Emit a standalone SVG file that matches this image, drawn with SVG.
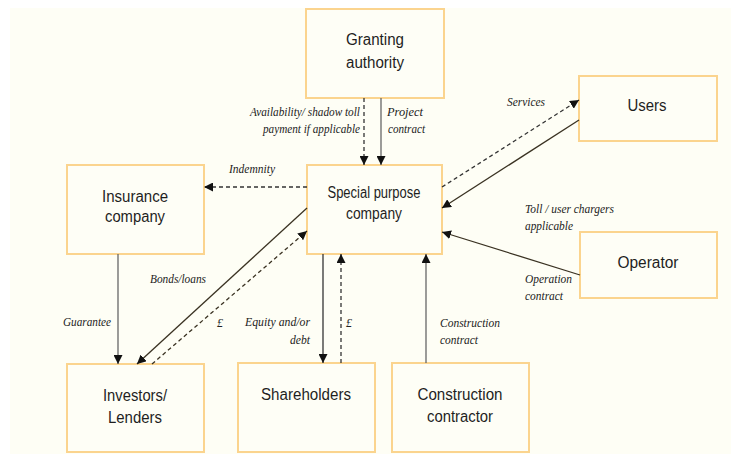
<svg xmlns="http://www.w3.org/2000/svg" width="731" height="454" viewBox="0 0 731 454">
<style>
.box rect{fill:#fefef6;stroke:#fbd48e;stroke-width:2}
.box text{font-family:"Liberation Sans",Arial,sans-serif;font-size:16px;fill:#1e1e1e;text-anchor:middle}
.lbl{font-family:"Liberation Serif","Times New Roman",serif;font-style:italic;font-size:12px;fill:#222}
.c{fill:none;stroke-width:1.3}
.dash{stroke-dasharray:4 3}
.gray{stroke:#666}
.dark{stroke:#3a3222}
.blk{stroke:#333}
</style>
<defs>
<marker id="ah" viewBox="0 0 10 10" refX="10" refY="5" markerWidth="9" markerHeight="9" markerUnits="userSpaceOnUse" orient="auto">
<path d="M0,0 L10,5 L0,10 z" fill="#111"/>
</marker>
</defs>
<rect x="0" y="0" width="731" height="454" fill="#ffffff"/>
<rect x="10" y="8" width="721" height="446" fill="#fefef5"/>

<g id="granting-authority" class="box">
<rect x="306" y="9" width="138" height="89"/>
<text x="375" y="45" textLength="58" lengthAdjust="spacingAndGlyphs">Granting</text>
<text x="375" y="68" textLength="58" lengthAdjust="spacingAndGlyphs">authority</text>
</g>
<g id="users" class="box">
<rect x="579" y="76" width="138" height="65"/>
<text x="647" y="111" textLength="39" lengthAdjust="spacingAndGlyphs">Users</text>
</g>
<g id="insurance-company" class="box">
<rect x="67" y="165" width="137" height="89"/>
<text x="135" y="202" textLength="66" lengthAdjust="spacingAndGlyphs">Insurance</text>
<text x="135" y="222" textLength="60" lengthAdjust="spacingAndGlyphs">company</text>
</g>
<g id="special-purpose-company" class="box">
<rect x="307" y="165" width="135" height="89"/>
<text x="374" y="198" textLength="93" lengthAdjust="spacingAndGlyphs">Special purpose</text>
<text x="374" y="219" textLength="56" lengthAdjust="spacingAndGlyphs">company</text>
</g>
<g id="operator" class="box">
<rect x="580" y="232" width="137" height="66"/>
<text x="648" y="268" textLength="61" lengthAdjust="spacingAndGlyphs">Operator</text>
</g>
<g id="investors-lenders" class="box">
<rect x="67" y="364" width="137" height="88"/>
<text x="135" y="401" textLength="64" lengthAdjust="spacingAndGlyphs">Investors/</text>
<text x="135" y="423" textLength="54" lengthAdjust="spacingAndGlyphs">Lenders</text>
</g>
<g id="shareholders" class="box">
<rect x="238" y="363" width="137" height="89"/>
<text x="306" y="400" textLength="90" lengthAdjust="spacingAndGlyphs">Shareholders</text>
</g>
<g id="construction-contractor" class="box">
<rect x="392" y="363" width="137" height="89"/>
<text x="460" y="400" textLength="85" lengthAdjust="spacingAndGlyphs">Construction</text>
<text x="460" y="422" textLength="66" lengthAdjust="spacingAndGlyphs">contractor</text>
</g>

<g id="connectors">
<path class="c dash blk" d="M364,98 L364,165" marker-end="url(#ah)"/>
<path class="c gray" d="M381,98 L381,165" marker-end="url(#ah)"/>
<path class="c dash blk" d="M307,187 L204,187" marker-end="url(#ah)"/>
<path class="c dash blk" d="M442,187 L579,100" marker-end="url(#ah)"/>
<path class="c dark" d="M579,120 L442,208" marker-end="url(#ah)"/>
<path class="c dark" d="M580,275 L442,232" marker-end="url(#ah)"/>
<path class="c gray" d="M118,254 L118,364" marker-end="url(#ah)"/>
<path class="c dark" d="M307,208 L137,364" marker-end="url(#ah)"/>
<path class="c dash dark" d="M152,364 L307,231" marker-end="url(#ah)"/>
<path class="c blk" d="M323,254 L323,363" marker-end="url(#ah)"/>
<path class="c dash blk" d="M341,363 L341,254" marker-end="url(#ah)"/>
<path class="c gray" d="M426,363 L426,254" marker-end="url(#ah)"/>

<text class="lbl" x="360" y="116" text-anchor="end" textLength="110" lengthAdjust="spacingAndGlyphs">Availability/ shadow toll</text>
<text class="lbl" x="360" y="133" text-anchor="end" textLength="97" lengthAdjust="spacingAndGlyphs">payment if applicable</text>
<text class="lbl" x="387" y="116" textLength="36" lengthAdjust="spacingAndGlyphs">Project</text>
<text class="lbl" x="388" y="133" textLength="37" lengthAdjust="spacingAndGlyphs">contract</text>
<text class="lbl" x="229" y="173" textLength="46" lengthAdjust="spacingAndGlyphs">Indemnity</text>
<text class="lbl" x="507" y="106" textLength="38" lengthAdjust="spacingAndGlyphs">Services</text>
<text class="lbl" x="525" y="213" textLength="89" lengthAdjust="spacingAndGlyphs">Toll / user chargers</text>
<text class="lbl" x="525" y="230" textLength="48" lengthAdjust="spacingAndGlyphs">applicable</text>
<text class="lbl" x="525" y="283" textLength="47" lengthAdjust="spacingAndGlyphs">Operation</text>
<text class="lbl" x="525" y="300" textLength="38" lengthAdjust="spacingAndGlyphs">contract</text>
<text class="lbl" x="150" y="283" textLength="56" lengthAdjust="spacingAndGlyphs">Bonds/loans</text>
<text class="lbl" x="63" y="326" textLength="48" lengthAdjust="spacingAndGlyphs">Guarantee</text>
<text class="lbl" x="217" y="327">£</text>
<text class="lbl" x="310" y="326" text-anchor="end" textLength="65" lengthAdjust="spacingAndGlyphs">Equity and/or</text>
<text class="lbl" x="310" y="344" text-anchor="end" textLength="20" lengthAdjust="spacingAndGlyphs">debt</text>
<text class="lbl" x="346" y="327">£</text>
<text class="lbl" x="440" y="327" textLength="60" lengthAdjust="spacingAndGlyphs">Construction</text>
<text class="lbl" x="440" y="344" textLength="38" lengthAdjust="spacingAndGlyphs">contract</text>
</g>
</svg>
